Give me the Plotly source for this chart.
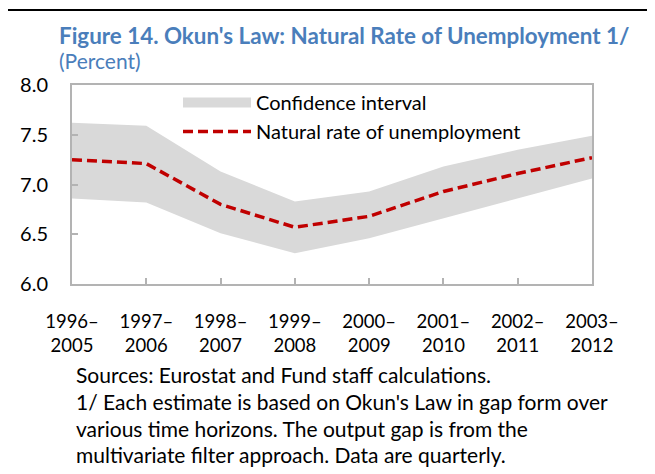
import plotly.graph_objects as go

periods = ["1996–<br>2005", "1997–<br>2006", "1998–<br>2007", "1999–<br>2008",
           "2000–<br>2009", "2001–<br>2010", "2002–<br>2011", "2003–<br>2012"]
natural_rate = [7.25, 7.21, 6.80, 6.57, 6.68, 6.93, 7.11, 7.27]
upper_ci = [7.62, 7.59, 7.13, 6.83, 6.93, 7.18, 7.35, 7.49]
lower_ci = [6.86, 6.82, 6.51, 6.31, 6.46, 6.66, 6.86, 7.06]
yticks = [6.0, 6.5, 7.0, 7.5, 8.0]

FONT = "Lato"
BAND = "#d9d9d9"
RED = "#c00000"
BLUE = "#4a7ebb"

x = list(range(len(periods)))

fig = go.Figure()
fig.add_trace(go.Scatter(x=x, y=lower_ci, mode="lines", line=dict(width=0, color=BAND),
                         showlegend=False, hoverinfo="skip", legendgroup="ci"))
fig.add_trace(go.Scatter(x=x, y=upper_ci, mode="lines", line=dict(width=0, color=BAND),
                         fill="tonexty", fillcolor=BAND, showlegend=False,
                         legendgroup="ci", name="Confidence interval"))
# legend entry for band
fig.add_trace(go.Scatter(x=[None], y=[None], mode="lines", line=dict(width=13, color=BAND),
                         name="Confidence interval", legendgroup="ci"))
fig.add_trace(go.Scatter(x=x, y=natural_rate, mode="lines",
                         line=dict(color=RED, width=3.5, dash="10px,5px"),
                         name="Natural rate of unemployment"))

# page body has an 8px offset; target pixel positions are given in window pixels
OFF = 8
W, H = 655, 474
PL, PR, PT, PB = 72, 592, 85, 284  # plot area in window pixels
L = PL - OFF
T = PT - OFF
pw = PR - PL
ph = PB - PT
R = W - L - pw
B = H - T - ph

def px_x(p):
    return (p - PL) / pw

def px_y(p):
    return (PB - p) / ph

axis_common = dict(showline=True, linecolor="#b3b3b3", linewidth=2, mirror=True,
                   showgrid=False, zeroline=False, ticks="inside", ticklen=6,
                   tickcolor="#b3b3b3", tickwidth=1.5)

fig.update_layout(
    width=W, height=H,
    margin=dict(l=L, r=R, t=T, b=B),
    paper_bgcolor="white", plot_bgcolor="white",
    font=dict(family=FONT, size=18, color="black"),
    xaxis=dict(range=[0, len(periods) - 1], tickmode="array", tickvals=x, ticktext=periods,
               tickfont=dict(size=18.5), ticklabelstandoff=20, **axis_common),
    yaxis=dict(range=[6.0, 8.0], tickmode="array", tickvals=yticks,
               ticktext=[f"{v:.1f}" for v in yticks], tickfont=dict(size=20),
               ticklabelstandoff=18, **axis_common),
    legend=dict(x=px_x(178), y=px_y(83), xanchor="left", yanchor="top",
                bgcolor="rgba(0,0,0,0)", borderwidth=0, itemwidth=68,
                font=dict(size=20), tracegroupgap=0),
    showlegend=True,
)

fig.add_shape(type="rect", xref="paper", yref="paper",
              x0=px_x(7), x1=px_x(700), y0=px_y(520), y1=px_y(10),
              line=dict(color="black", width=2), fillcolor="rgba(0,0,0,0)", layer="above")

fig.add_annotation(xref="paper", yref="paper", x=px_x(57), y=px_y(35), xanchor="left",
                   yanchor="middle", showarrow=False,
                   text="<b>Figure 14. Okun's Law: Natural Rate of Unemployment 1/</b>",
                   font=dict(size=22.4, color=BLUE, family=FONT))
fig.add_annotation(xref="paper", yref="paper", x=px_x(57), y=px_y(61), xanchor="left",
                   yanchor="middle", showarrow=False, text="(Percent)",
                   font=dict(size=21, color=BLUE, family=FONT))

notes = ["Sources: Eurostat and Fund staff calculations.",
         "1/ Each estimate is based on Okun's Law in gap form over",
         "various time horizons. The output gap is from the",
         "multivariate filter approach. Data are quarterly."]
for i, line in enumerate(notes):
    fig.add_annotation(xref="paper", yref="paper", x=px_x(74), y=px_y(374 + 27 * i),
                       xanchor="left", yanchor="middle", showarrow=False, text=line,
                       font=dict(size=21, color="black", family=FONT))

fig.write_html("out.html")
